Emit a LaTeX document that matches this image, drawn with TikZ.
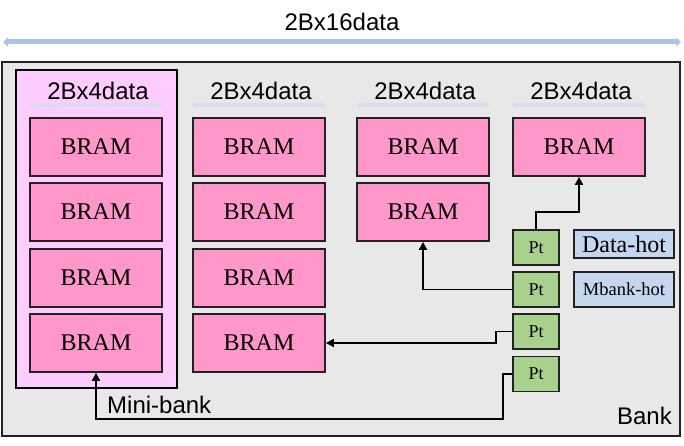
\documentclass[tikz,border=0pt]{standalone}
\usepackage{fontspec}
\setmainfont{Liberation Serif}
\newfontfamily\lblfont{Liberation Sans}
\usetikzlibrary{arrows.meta}
\definecolor{bankfill}{HTML}{E8E8E8}
\definecolor{minifill}{HTML}{FFCCFF}
\definecolor{bramfill}{HTML}{FF97CA}
\definecolor{ptfill}{HTML}{A9D18E}
\definecolor{hotfill}{HTML}{C5D7EE}
\definecolor{bigarr}{HTML}{A9C4E4}
\definecolor{smallarr}{HTML}{D5DEEA}
\definecolor{edge}{HTML}{222222}
\tikzset{
  bram/.style={draw=edge, line width=1.8pt, fill=bramfill, minimum width=132pt, minimum height=58pt, inner sep=0pt, font=\fontsize{24}{28}\selectfont},
  ptbox/.style={draw=edge, line width=1.8pt, fill=ptfill, minimum width=46pt, minimum height=35pt, inner sep=0pt, font=\fontsize{18}{21}\selectfont},
  hotbox/.style={draw=edge, line width=1.8pt, fill=hotfill, minimum width=100pt, inner sep=0pt},
  lbl/.style={inner sep=0pt, font=\lblfont\fontsize{24}{28}\selectfont},
  conn/.style={draw=black, line width=1.8pt, -{Triangle[length=8pt,width=8pt]}},
  widthline/.style={draw=smallarr, line width=4pt, {Triangle[length=4pt,width=7pt]}-{Triangle[length=4pt,width=7pt]}},
}
\begin{document}
\begin{tikzpicture}[x=1pt,y=-1pt]
\useasboundingbox (0,0) rectangle (684,446);
% top dimension
\coordinate (tl) at (3,42);
\coordinate (tr) at (681,42);
\draw[draw=bigarr, line width=5pt, {Triangle[length=5pt,width=9pt]}-{Triangle[length=5pt,width=9pt]}] (tl) -- (tr);
\node[lbl] (toplbl) at (342,22) {2Bx16data};
% bank
\node[draw=edge, line width=1.8pt, fill=bankfill, minimum width=678pt, minimum height=374pt, inner sep=0pt] (bank) at (341,249) {};
\node[draw=black, line width=2.6pt, fill=minifill, minimum width=161pt, minimum height=318pt, inner sep=0pt] (mini) at (96.5,229) {};
% BRAMs
\node[bram] (b11) at (96,147) {BRAM};
\node[bram] (b12) at (96,212) {BRAM};
\node[bram] (b13) at (96,278) {BRAM};
\node[bram] (b14) at (96,343) {BRAM};
\node[bram] (b21) at (259,147) {BRAM};
\node[bram] (b22) at (259,212) {BRAM};
\node[bram] (b23) at (259,278) {BRAM};
\node[bram] (b24) at (259,343) {BRAM};
\node[bram] (b31) at (423,147) {BRAM};
\node[bram] (b32) at (423,212) {BRAM};
\node[bram] (b41) at (579,147) {BRAM};
% column widths
\foreach \c in {b11,b21,b31,b41}{
  \draw[widthline] ([yshift=12pt]\c.north west) -- ([yshift=12pt]\c.north east);
  \node[lbl] (l\c) at ([xshift=2pt,yshift=26pt]\c.north) {2Bx4data};
}
% Pt boxes
\node[ptbox] (pt1) at (536,247.5) {Pt};
\node[ptbox] (pt2) at (536,289.5) {Pt};
\node[ptbox] (pt3) at (536,331.5) {Pt};
\node[ptbox] (pt4) at (536,374) {Pt};
% legend
\node[hotbox, minimum height=28pt, font=\fontsize{24}{28}\selectfont] (dhot) at (624,244) {Data-hot};
\node[hotbox, minimum height=35pt, font=\fontsize{18.5}{22}\selectfont] (mhot) at (624,289.5) {Mbank-hot};
% connectors
\draw[conn] (pt1.north) -- ++(0,-17) -| (b41.south);
\draw[conn] (pt2.west) -| (b32.south);
\draw[conn] (pt3.west) -- ++(-16,0) |- (b24.east);
\draw[conn] (pt4.west) -- ++(-9,0) |- ([yshift=-46pt]b14.south) -- (b14.south);
% labels
\node[lbl, anchor=west] (minilbl) at (107,405) {Mini-bank};
\node[lbl, anchor=east] (banklbl) at (672,416) {Bank};
\end{tikzpicture}
\end{document}
